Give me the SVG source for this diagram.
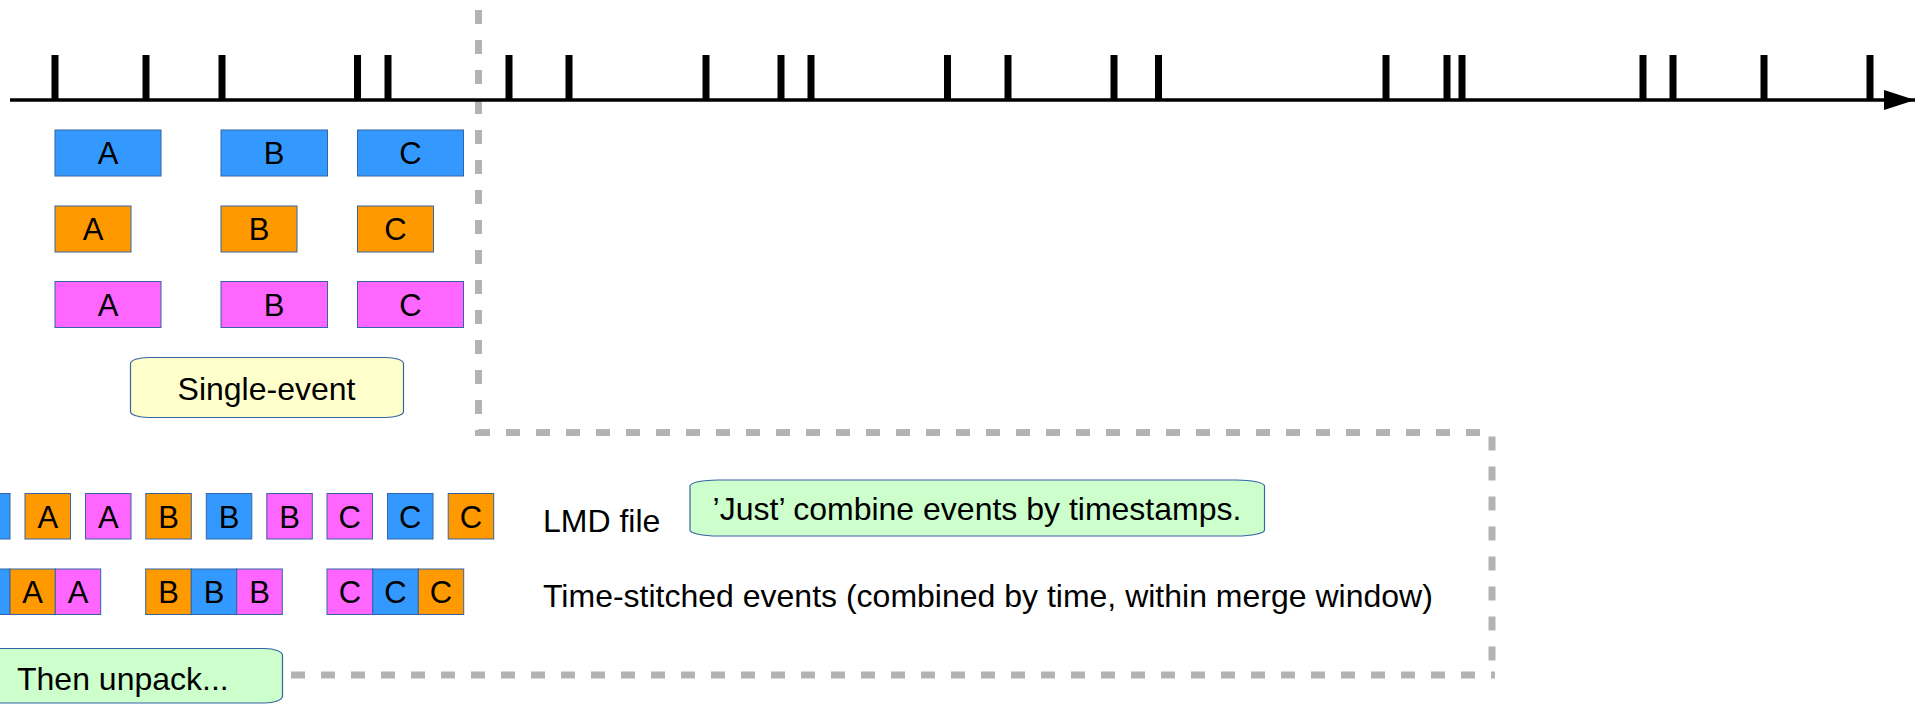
<svg xmlns="http://www.w3.org/2000/svg" width="1925" height="705" viewBox="0 0 1925 705">
  <style>
    text { font-family: "Liberation Sans", Arial, sans-serif; fill: #000; }
    .lbl { font-size: 31px; text-anchor: middle; }
    .cap { font-size: 32px; }
    .ev { stroke: #3465a4; stroke-width: 1; }
    .blue { fill: #3399ff; }
    .orange { fill: #ff9900; }
    .mag { fill: #ff66ff; }
    .note { stroke: #3465a4; stroke-width: 1.2; }
    .tick { stroke: #000; stroke-width: 7; }
    .sep { fill: none; stroke: #b3b3b3; stroke-width: 7; stroke-dasharray: 14 16; }
  </style>
  <defs>
    <marker id="arrow" markerUnits="userSpaceOnUse" markerWidth="32" markerHeight="20" refX="31" refY="10" orient="auto">
      <path d="M0,0 L31,10 L0,20 Z" fill="#000"/>
    </marker>
  </defs>

  <rect width="1925" height="705" fill="#fff"/>

  <!-- connectors: time axis and section separator -->
  <g id="connectors">
    <path class="sep" d="M478.5,10 V432.5 H1492 V675"/>
    <path class="sep" d="M291,675 H1495"/>
    <line x1="10" y1="100" x2="1915" y2="100" stroke="#000" stroke-width="3.5" marker-end="url(#arrow)"/>
  </g>

  <!-- timestamps on the axis -->
  <g id="ticks">
    <line class="tick" x1="55" y1="55" x2="55" y2="100"/>
    <line class="tick" x1="146" y1="55" x2="146" y2="100"/>
    <line class="tick" x1="222" y1="55" x2="222" y2="100"/>
    <line class="tick" x1="357.5" y1="55" x2="357.5" y2="100"/>
    <line class="tick" x1="388" y1="55" x2="388" y2="100"/>
    <line class="tick" x1="509" y1="55" x2="509" y2="100"/>
    <line class="tick" x1="569" y1="55" x2="569" y2="100"/>
    <line class="tick" x1="706" y1="55" x2="706" y2="100"/>
    <line class="tick" x1="781" y1="55" x2="781" y2="100"/>
    <line class="tick" x1="811" y1="55" x2="811" y2="100"/>
    <line class="tick" x1="947.5" y1="55" x2="947.5" y2="100"/>
    <line class="tick" x1="1008" y1="55" x2="1008" y2="100"/>
    <line class="tick" x1="1114" y1="55" x2="1114" y2="100"/>
    <line class="tick" x1="1158.5" y1="55" x2="1158.5" y2="100"/>
    <line class="tick" x1="1386" y1="55" x2="1386" y2="100"/>
    <line class="tick" x1="1447" y1="55" x2="1447" y2="100"/>
    <line class="tick" x1="1462" y1="55" x2="1462" y2="100"/>
    <line class="tick" x1="1643" y1="55" x2="1643" y2="100"/>
    <line class="tick" x1="1673" y1="55" x2="1673" y2="100"/>
    <line class="tick" x1="1764" y1="55" x2="1764" y2="100"/>
    <line class="tick" x1="1870" y1="55" x2="1870" y2="100"/>
  </g>

  <!-- single-event streams, one row per source -->
  <g id="blue-A"><rect class="ev blue" x="55" y="130" width="106" height="46"/><text class="lbl" x="108" y="164">A</text></g>
  <g id="blue-B"><rect class="ev blue" x="221" y="130" width="106.5" height="46"/><text class="lbl" x="274" y="164">B</text></g>
  <g id="blue-C"><rect class="ev blue" x="357.5" y="130" width="106" height="46"/><text class="lbl" x="410.5" y="164">C</text></g>

  <g id="orange-A"><rect class="ev orange" x="55" y="206" width="76" height="46"/><text class="lbl" x="93" y="240">A</text></g>
  <g id="orange-B"><rect class="ev orange" x="221" y="206" width="76" height="46"/><text class="lbl" x="259" y="240">B</text></g>
  <g id="orange-C"><rect class="ev orange" x="357.5" y="206" width="76" height="46"/><text class="lbl" x="395.5" y="240">C</text></g>

  <g id="mag-A"><rect class="ev mag" x="55" y="281.5" width="106" height="46"/><text class="lbl" x="108" y="315.5">A</text></g>
  <g id="mag-B"><rect class="ev mag" x="221" y="281.5" width="106.5" height="46"/><text class="lbl" x="274" y="315.5">B</text></g>
  <g id="mag-C"><rect class="ev mag" x="357.5" y="281.5" width="106" height="46"/><text class="lbl" x="410.5" y="315.5">C</text></g>

  <g id="note-single">
    <rect class="note" x="130.5" y="357.5" width="273" height="60" rx="18" ry="6" fill="#ffffcc"/>
    <text class="cap" x="266.5" y="400" text-anchor="middle">Single-event</text>
  </g>

  <!-- LMD file: events ordered by timestamp -->
  <g id="lmd-row">
    <g id="lmd-0"><rect class="ev blue" x="-35.5" y="493.5" width="45.5" height="45.5"/></g>
    <g id="lmd-1"><rect class="ev orange" x="25" y="493.5" width="45.5" height="45.5"/><text class="lbl" x="47.75" y="527.5">A</text></g>
    <g id="lmd-2"><rect class="ev mag" x="85.5" y="493.5" width="45.5" height="45.5"/><text class="lbl" x="108.25" y="527.5">A</text></g>
    <g id="lmd-3"><rect class="ev orange" x="145.8" y="493.5" width="45.5" height="45.5"/><text class="lbl" x="168.5" y="527.5">B</text></g>
    <g id="lmd-4"><rect class="ev blue" x="206.3" y="493.5" width="45.5" height="45.5"/><text class="lbl" x="229" y="527.5">B</text></g>
    <g id="lmd-5"><rect class="ev mag" x="266.8" y="493.5" width="45.5" height="45.5"/><text class="lbl" x="289.5" y="527.5">B</text></g>
    <g id="lmd-6"><rect class="ev mag" x="327" y="493.5" width="45.5" height="45.5"/><text class="lbl" x="349.75" y="527.5">C</text></g>
    <g id="lmd-7"><rect class="ev blue" x="387.5" y="493.5" width="45.5" height="45.5"/><text class="lbl" x="410.25" y="527.5">C</text></g>
    <g id="lmd-8"><rect class="ev orange" x="448.2" y="493.5" width="45.5" height="45.5"/><text class="lbl" x="471" y="527.5">C</text></g>
  </g>
  <g id="label-lmd"><text class="cap" x="543" y="531.5">LMD file</text></g>

  <g id="note-combine">
    <rect class="note" x="690" y="480" width="574.5" height="56" rx="28" ry="6" fill="#ccffcc"/>
    <text class="cap" x="977" y="520" text-anchor="middle">’Just’ combine events by timestamps.</text>
  </g>

  <!-- time-stitched events -->
  <g id="stitched-row">
    <g id="ts-0"><rect class="ev blue" x="-35.3" y="569" width="45.3" height="45.5"/></g>
    <g id="ts-1"><rect class="ev orange" x="10" y="569" width="45.3" height="45.5"/><text class="lbl" x="32.7" y="603">A</text></g>
    <g id="ts-2"><rect class="ev mag" x="55.3" y="569" width="45.4" height="45.5"/><text class="lbl" x="78" y="603">A</text></g>
    <g id="ts-3"><rect class="ev orange" x="145.7" y="569" width="45.6" height="45.5"/><text class="lbl" x="168.5" y="603">B</text></g>
    <g id="ts-4"><rect class="ev blue" x="191.3" y="569" width="45.4" height="45.5"/><text class="lbl" x="214" y="603">B</text></g>
    <g id="ts-5"><rect class="ev mag" x="236.7" y="569" width="45.6" height="45.5"/><text class="lbl" x="259.5" y="603">B</text></g>
    <g id="ts-6"><rect class="ev mag" x="327" y="569" width="45.7" height="45.5"/><text class="lbl" x="349.85" y="603">C</text></g>
    <g id="ts-7"><rect class="ev blue" x="372.7" y="569" width="45.6" height="45.5"/><text class="lbl" x="395.5" y="603">C</text></g>
    <g id="ts-8"><rect class="ev orange" x="418.3" y="569" width="45.4" height="45.5"/><text class="lbl" x="441" y="603">C</text></g>
  </g>
  <g id="label-stitched"><text class="cap" x="543" y="607">Time-stitched events (combined by time, within merge window)</text></g>

  <g id="note-unpack">
    <rect class="note" x="-37" y="648.5" width="319.5" height="54.5" rx="18" ry="7" fill="#ccffcc"/>
    <text class="cap" x="17" y="690">Then unpack...</text>
  </g>
</svg>
